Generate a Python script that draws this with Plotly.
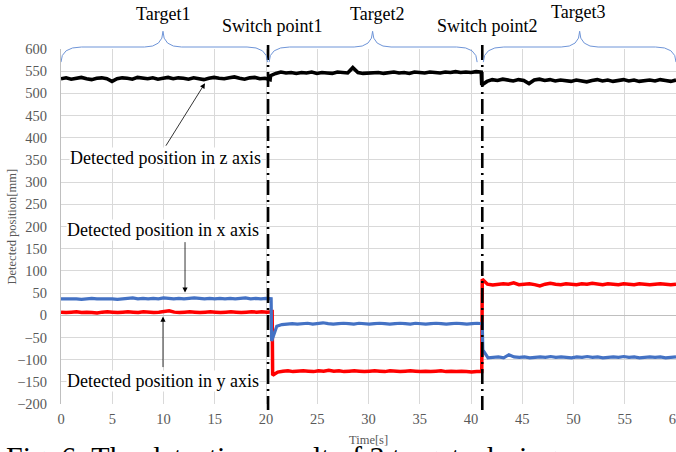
import numpy as np
import plotly.graph_objects as go

# ---------------- data ----------------
# segment boundaries in seconds (start, end) for each plateau
z_segments = [(0.0, 20.4), (20.45, 41.0), (41.05, 60.0)]
x_segments = [(0.0, 20.5), (20.55, 41.1), (41.15, 60.0)]
y_segments = [(0.0, 20.6), (20.65, 41.05), (41.1, 60.0)]

z_seg1 = [533, 535, 532, 534, 536, 533, 531, 534, 535, 533, 527, 533, 535, 534, 532, 536, 534, 533, 535, 532, 534,
          536, 533, 535, 534, 532, 535, 533, 531, 534, 536, 534, 533, 535, 537, 534, 532, 535, 536, 533, 534, 531]
z_seg2 = [540, 545, 548, 546, 547, 545, 547, 546, 548, 545, 547, 546, 545, 548, 547, 546, 558, 547, 545, 546, 548,
          547, 545, 547, 548, 546, 547, 545, 548, 547, 546, 548, 547, 546, 548, 547, 549, 547, 548, 547, 549, 548]
z_seg3 = [519, 527, 531, 529, 532, 530, 528, 531, 529, 522, 530, 532, 529, 531, 528, 530, 529, 527, 530, 528, 526,
          529, 531, 528, 530, 527, 529, 531, 528, 530, 527, 529, 530, 528, 531, 529, 527, 530]

x_seg1 = [37, 37, 38, 37, 36, 37, 38, 37, 37, 38, 37, 36, 37, 38, 39, 37, 38, 37, 38, 37, 39,
          38, 37, 38, 37, 38, 39, 38, 37, 38, 37, 38, 37, 38, 37, 38, 39, 37, 38, 37, 38, 37]
x_seg2 = [-58, -25, -21, -20, -19, -20, -19, -18, -20, -19, -17, -19, -20, -19, -18, -19, -20, -18, -19, -20, -19,
          -18, -19, -20, -19, -18, -19, -20, -18, -19, -20, -19, -18, -19, -20, -19, -18, -19, -20, -19, -18, -19]
x_seg3 = [-78, -96, -95, -94, -96, -89, -94, -95, -94, -96, -95, -94, -95, -93, -95, -94, -95, -96, -94, -95,
          -93, -95, -94, -96, -95, -94, -95, -93, -95, -94, -96, -95, -94, -95, -94, -96, -95, -94]

y_seg1 = [7, 6, 7, 8, 6, 7, 6, 5, 7, 8, 7, 6, 7, 8, 7, 6, 8, 7, 6, 7, 8,
          10, 7, 6, 7, 8, 7, 6, 7, 8, 7, 6, 7, 8, 7, 6, 7, 8, 7, 8, 7, 8]
y_seg2 = [-135, -128, -126, -125, -127, -126, -125, -126, -127, -125, -126, -124, -126, -125, -127, -126, -125,
          -126, -127, -126, -125, -126, -127, -125, -126, -127, -126, -125, -126, -127, -126, -127, -126, -125,
          -127, -126, -127, -126, -127, -128, -127, -127]
y_seg3 = [81, 70, 68, 69, 71, 70, 73, 69, 70, 71, 69, 66, 70, 72, 70, 69, 71, 70, 69, 71, 70,
          72, 70, 69, 71, 70, 69, 71, 70, 69, 71, 70, 69, 70, 71, 70, 69, 70]

switch_times = [20.2, 41.1]
switch_labels = ["Switch point1", "Switch point2"]
target_labels = ["Target1", "Target2", "Target3"]
x_tick_vals = list(range(0, 61, 5))
y_tick_vals = list(range(-200, 601, 50))


def build(segments, values):
    t_all, v_all = [], []
    for (a, b), vals in zip(segments, values):
        t_all.extend(np.linspace(a, b, len(vals)).tolist())
        v_all.extend(vals)
    return t_all, v_all


tz, vz = build(z_segments, [z_seg1, z_seg2, z_seg3])
tx, vx = build(x_segments, [x_seg1, x_seg2, x_seg3])
ty, vy = build(y_segments, [y_seg1, y_seg2, y_seg3])

SERIF = "Liberation Serif"
GRAY = "#595959"

fig = go.Figure()
fig.add_trace(go.Scatter(x=tz, y=vz, mode="lines", line=dict(color="#000000", width=3.6), name="z"))
fig.add_trace(go.Scatter(x=ty, y=vy, mode="lines", line=dict(color="#FF0000", width=3.5), name="y"))
fig.add_trace(go.Scatter(x=tx, y=vx, mode="lines", line=dict(color="#4472C4", width=3.2), name="x"))

# switch lines
for st in switch_times:
    fig.add_shape(type="line", xref="x", yref="paper", x0=st, x1=st, y0=1.011, y1=-0.017,
                  line=dict(color="black", width=2.6, dash="15px,5px,2px,5px"), layer="above")

# braces
def brace(x0, xc, x1, y_end=0.963, y_mid=1.0056, y_apex=1.05, w_end=2.0, w_mid=1.8):
    return (f"M {x0},{y_end} Q {x0},{y_mid} {x0 + w_end},{y_mid} L {xc - w_mid},{y_mid} "
            f"Q {xc},{y_mid} {xc},{y_apex} Q {xc},{y_mid} {xc + w_mid},{y_mid} "
            f"L {x1 - w_end},{y_mid} Q {x1},{y_mid} {x1},{y_end}")

brace_spans = [(0.0, 9.95, 20.15), (20.3, 30.4, 40.6), (41.2, 50.6, 60.0)]
for a, c, b in brace_spans:
    fig.add_shape(type="path", xref="x", yref="paper", path=brace(a, c, b),
                  line=dict(color="#6f95d8", width=1))

# top labels
label_font = dict(family=SERIF, size=18, color="black")
for txt, xx, yy in zip(target_labels, [9.95, 30.8, 50.4], [1.099, 1.099, 1.104]):
    fig.add_annotation(text=txt, x=xx, y=yy, xref="x", yref="paper", showarrow=False, font=label_font,
                       xanchor="center", yanchor="middle")
for txt, xx in zip(switch_labels, [20.6, 41.6]):
    fig.add_annotation(text=txt, x=xx, y=1.065, xref="x", yref="paper", showarrow=False, font=label_font,
                       xanchor="center", yanchor="middle")

# in-plot labels and arrows
for txt, xx, yy in [("Detected position in z axis", 10.15, 354),
                    ("Detected position in x axis", 9.95, 191),
                    ("Detected position in y axis", 9.95, -148)]:
    fig.add_annotation(text=txt, x=xx, y=yy, xref="x", yref="y", showarrow=False, font=label_font,
                       bgcolor="white", xanchor="center", yanchor="middle", borderpad=0)
arrow_kw = dict(text="", showarrow=True, arrowhead=2, arrowsize=1.3, arrowwidth=0.8,
                arrowcolor="black", xref="x", yref="y", standoff=0)
fig.add_annotation(x=14.05, y=523, ax=-40, ay=64, **arrow_kw)
fig.add_annotation(x=12.1, y=51, ax=0, ay=-52, **arrow_kw)
fig.add_annotation(x=9.95, y=-3, ax=0, ay=52, **arrow_kw)

# axis titles
fig.add_annotation(text="Time[s]", x=0.5, y=-0.101, xref="paper", yref="paper", showarrow=False,
                   xanchor="center", yanchor="middle", font=dict(family=SERIF, size=12.5, color=GRAY))
fig.add_annotation(text="Detected position[mm]", x=-0.0797, y=0.5, xref="paper", yref="paper",
                   xanchor="center", yanchor="middle",
                   showarrow=False, textangle=-90, font=dict(family=SERIF, size=12.5, color=GRAY))

# caption (cut off at the bottom in the reference)
fig.add_annotation(text="Fig. 6: The detection result of 3 targets during", x=-0.092, y=-0.097,
                   xref="paper", yref="paper", xanchor="left", yanchor="top", showarrow=False,
                   font=dict(family=SERIF, size=30, color="black"))

fig.update_xaxes(range=[0, 60], tickvals=x_tick_vals, showgrid=True, gridcolor="#d9d9d9", gridwidth=1,
                 zeroline=False, showline=False, ticks="", ticklabelstandoff=4, automargin=False,
                 ticklabeloverflow="allow",
                 tickfont=dict(family=SERIF, size=14.5, color=GRAY))
fig.update_yaxes(range=[-200, 600], tickvals=y_tick_vals, showgrid=True, gridcolor="#d9d9d9", gridwidth=1,
                 zeroline=True, zerolinecolor="#bfbfbf", zerolinewidth=1, automargin=False,
                 showline=True, linecolor="#bfbfbf", linewidth=1, ticks="", ticklabelstandoff=10,
                 tickfont=dict(family=SERIF, size=14.5, color=GRAY))

fig.update_layout(width=676, height=452, margin=dict(l=61, r=0, t=49, b=48, autoexpand=False),
                  plot_bgcolor="white", paper_bgcolor="white", showlegend=False)

fig.write_html("out.html", config={"displayModeBar": False},
               post_script="document.body.style.margin='0';document.body.style.overflow='hidden';")
